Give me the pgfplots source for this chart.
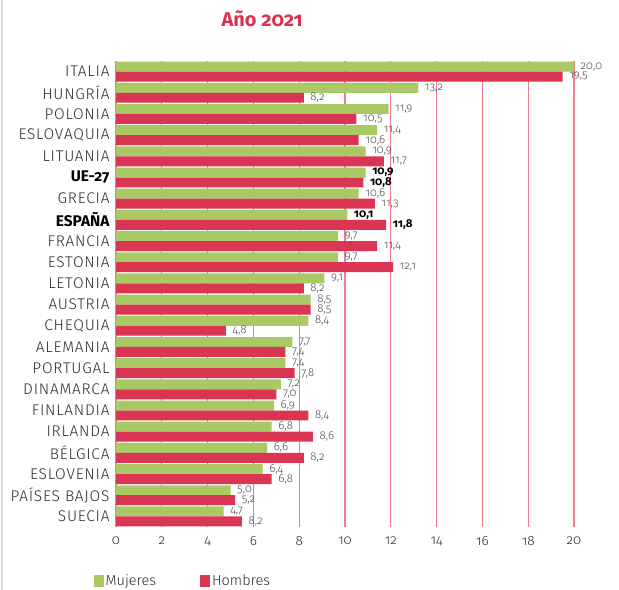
\documentclass[border=0pt]{standalone}
\usepackage{fontspec}
\setmainfont{Fira Sans}[Numbers=OldStyle]
\newfontfamily\lightfont{Fira Sans Light}[Numbers=OldStyle]
\newfontfamily\catfont{Fira Sans Light}[Numbers=OldStyle, LetterSpace=5]
\usepackage{pgfplots}
\pgfplotsset{compat=1.18}
\usepackage{pgfplotstable}
\definecolor{mgreen}{RGB}{168,201,100}
\definecolor{hred}{RGB}{218,54,84}
\definecolor{gpink}{RGB}{240,125,143}
\definecolor{txt}{RGB}{45,45,45}
\definecolor{vtxt}{RGB}{75,75,75}
\definecolor{tred}{RGB}{217,51,80}

\pgfplotstableread{
y x lab
0 20.0 20,0
1 13.2 13,2
2 11.9 11,9
3 11.4 11,4
4 10.9 10,9
5 10.9 {\normalfont\bfseries\color{black}10,9}
6 10.6 10,6
7 10.1 {\normalfont\bfseries\color{black}10,1}
8 9.7 9,7
9 9.7 9,7
10 9.1 9,1
11 8.5 8,5
12 8.4 8,4
13 7.7 7,7
14 7.4 7,4
15 7.2 7,2
16 6.9 6,9
17 6.8 6,8
18 6.6 6,6
19 6.4 6,4
20 5.0 5,0
21 4.7 4,7
}\mujeres

\pgfplotstableread{
y x lab
0 19.5 19,5
1 8.2 8,2
2 10.5 10,5
3 10.6 10,6
4 11.7 11,7
5 10.8 {\normalfont\bfseries\color{black}10,8}
6 11.3 11,3
7 11.8 {\normalfont\bfseries\color{black}11,8}
8 11.4 11,4
9 12.1 12,1
10 8.2 8,2
11 8.5 8,5
12 4.8 4,8
13 7.4 7,4
14 7.8 7,8
15 7.0 7,0
16 8.4 8,4
17 8.6 8,6
18 8.2 8,2
19 6.8 6,8
20 5.2 5,2
21 5.5 8,2
}\hombres

\begin{document}
\begin{tikzpicture}
\useasboundingbox (0bp,0bp) rectangle (619bp,-590bp);
\fill[white] (0bp,0bp) rectangle (619bp,-590bp);
\draw[black!15, line width=1.5bp] (2bp,0bp) -- (2bp,-590bp);
\begin{axis}[
  at={(116bp,-61bp)}, anchor=north west,
  scale only axis, width=458bp, height=466bp,
  xbar, bar width=0.47,
  xmin=0, xmax=20, ymin=-0.5, ymax=21.5,
  y dir=reverse,
  axis line style={draw=none},
  xtick={0,2,...,20},
  ytick={0,...,21},
  yticklabels={ITALIA,HUNGRÍA,POLONIA,ESLOVAQUIA,LITUANIA,{\normalfont\bfseries\color{black}UE-27},GRECIA,{\normalfont\bfseries\color{black}ESPAÑA},FRANCIA,ESTONIA,LETONIA,AUSTRIA,CHEQUIA,ALEMANIA,PORTUGAL,DINAMARCA,FINLANDIA,IRLANDA,BÉLGICA,ESLOVENIA,PAÍSES BAJOS,SUECIA},
  major tick length=0pt,
  xmajorgrids, ymajorgrids=false,
  grid style={color=gpink, line width=1.3bp},
  /pgf/number format/assume math mode=true,
  xticklabel style={font=\lightfont\fontsize{13.5}{15}\selectfont, color=txt, yshift=-6bp},
  yticklabel style={font=\catfont\fontsize{15.5}{17}\selectfont, color=txt, xshift=-3bp},
  title={\bfseries Año 2021},
  title style={at={(0.319,1.077)}, anchor=center, font=\fontsize{20}{23}\selectfont, color=tred},
  nodes near coords,
  point meta=explicit symbolic,
  nodes near coords style={font=\lightfont\fontsize{11.5}{12}\selectfont, color=vtxt, anchor=west, inner sep=0.5bp, xshift=6bp},
  legend columns=2,
  legend style={draw=none, fill=none, at={(-0.056,-0.116)}, anchor=west, font=\lightfont\fontsize{14.5}{16}\selectfont, text=txt, /tikz/every even column/.append style={column sep=42bp}},
  legend image code/.code={\fill[#1] (0bp,-6bp) rectangle (10bp,6bp);},
]
\addplot[fill=mgreen, draw=none, bar shift=-0.235] table[x=x, y=y, meta=lab] {\mujeres};
\addlegendentry{Mujeres}
\addplot[fill=hred, draw=none, bar shift=0.235] table[x=x, y=y, meta=lab] {\hombres};
\addlegendentry{Hombres}
\end{axis}
\end{tikzpicture}
\end{document}
